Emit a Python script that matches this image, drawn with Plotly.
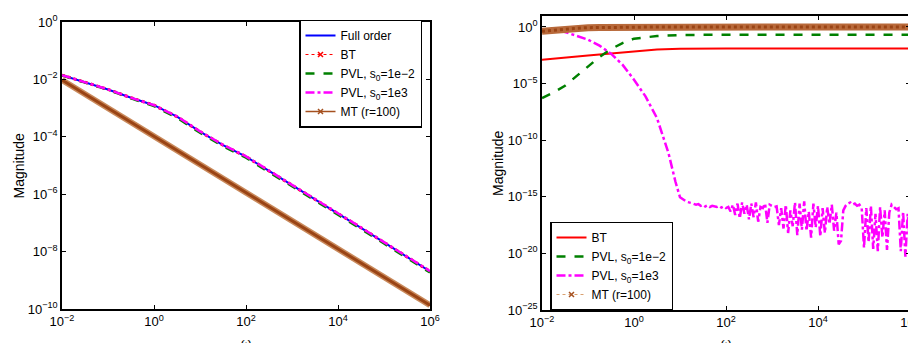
import plotly.graph_objects as go

# ---------------- data (log10 omega, log10 magnitude) ----------------
# Left panel: transfer function magnitudes
L_w = [-2.0, -1.5, -1.0, -0.5, 0.0, 0.5, 1.0, 1.5, 2.0, 2.5, 3.0, 3.5, 4.0, 4.5, 5.0, 5.5, 6.0]
L_full = [-1.85, -2.09, -2.35, -2.64, -2.90, -3.30, -3.82, -4.29, -4.69, -5.19, -5.68, -6.17, -6.66, -7.17, -7.68, -8.18, -8.69]
L_bt = [-1.85, -2.09, -2.35, -2.64, -2.90, -3.30, -3.82, -4.29, -4.69, -5.19, -5.68, -6.17, -6.66, -7.17, -7.68, -8.18, -8.69]
L_pvl1 = [-1.86, -2.10, -2.36, -2.66, -2.93, -3.34, -3.86, -4.33, -4.73, -5.23, -5.72, -6.21, -6.70, -7.21, -7.72, -8.22, -8.73]
L_pvl2 = [-1.85, -2.09, -2.35, -2.64, -2.90, -3.29, -3.81, -4.28, -4.68, -5.18, -5.67, -6.16, -6.65, -7.16, -7.67, -8.17, -8.68]
L_mt = [-2.02, -2.51, -3.00, -3.49, -3.98, -4.48, -4.97, -5.46, -5.95, -6.44, -6.93, -7.42, -7.91, -8.41, -8.90, -9.39, -9.87]

# Right panel: error magnitudes
R_w = [-2.0, -1.75, -1.5, -1.25, -1.0, -0.75, -0.5, -0.25, 0.0, 0.5, 1.0, 1.5, 2.0, 3.0, 4.0, 5.0, 6.0]
R_bt = [-2.89, -2.78, -2.68, -2.60, -2.51, -2.42, -2.33, -2.24, -2.15, -2.00, -1.92, -1.89, -1.89, -1.89, -1.89, -1.89, -1.89]
R_pvl1 = [-6.28, -5.78, -5.19, -4.36, -3.48, -2.65, -1.95, -1.42, -1.03, -0.80, -0.71, -0.68, -0.68, -0.68, -0.68, -0.68, -0.68]
R_mt = [-0.38, -0.27, -0.18, -0.11, -0.06, -0.04, -0.03, -0.01, 0.0, 0.0, 0.0, 0.0, 0.0, 0.0, 0.0, 0.0, 0.0]

R_pvl2_w = [-2.0, -1.75, -1.5, -1.25, -1.0, -0.75, -0.5, -0.25, 0.0, 0.25, 0.5, 0.75, 0.9, 1.0, 1.15, 1.25,
            1.30, 1.35, 1.40, 1.45, 1.50, 1.55, 1.60, 1.65, 1.70, 1.75,
            1.80, 1.85, 1.90, 1.95, 2.00, 2.05, 2.10, 2.15, 2.20, 2.25,
            2.30, 2.35, 2.40, 2.45, 2.50, 2.55, 2.60, 2.65, 2.70, 2.75,
            2.80, 2.85, 2.90, 2.95, 3.00, 3.05, 3.10, 3.15, 3.20, 3.25,
            3.30, 3.35, 3.40, 3.45, 3.50, 3.55, 3.60, 3.65, 3.70, 3.75,
            3.80, 3.85, 3.90, 3.95, 4.00, 4.05, 4.10, 4.15, 4.20, 4.25,
            4.30, 4.35, 4.40, 4.45, 4.50, 4.55, 4.60, 4.65, 4.70, 4.75,
            4.80, 4.85, 4.90, 4.95, 5.00, 5.05, 5.10, 5.15, 5.20, 5.25,
            5.30, 5.35, 5.40, 5.45, 5.50, 5.55, 5.60, 5.65, 5.70, 5.75,
            5.80, 5.85, 5.90, 5.95, 6.00]
R_pvl2 = [-0.30, -0.22, -0.44, -0.77, -1.12, -1.65, -2.36, -3.33, -4.66, -6.13, -8.05, -11.14, -13.65, -15.04, -15.45, -15.55,
          -15.6, -15.7, -15.65, -15.8, -15.7, -15.85, -15.75, -15.9, -15.8, -15.85,
          -15.9, -15.8, -15.95, -15.85, -16.0, -15.9, -16.3, -15.7, -16.6, -15.6,
          -16.9, -15.5, -16.5, -15.7, -17.0, -15.6, -16.8, -15.5, -17.2, -15.9,
          -16.0, -15.6, -17.3, -15.7, -15.8, -15.9, -15.85, -17.5, -16.0, -17.8,
          -15.7, -18.2, -16.2, -17.6, -15.5, -18.4, -15.6, -17.9, -15.4, -18.0,
          -16.3, -18.6, -15.6, -17.7, -15.8, -18.5, -16.0, -18.2, -15.9, -17.4,
          -15.7, -18.0, -16.4, -19.2, -18.9, -16.2, -15.8, -15.6, -15.5, -15.7,
          -15.6, -15.8, -15.7, -16.0, -19.5, -16.0, -19.0, -15.8, -19.6, -16.5,
          -19.8, -15.9, -18.6, -16.2, -19.7, -16.4, -15.7, -15.9, -16.1, -16.0,
          -19.8, -16.3, -20.3, -16.5, -19.0]

L_xticks = [-2, 0, 2, 4, 6]
L_xtext = ["10<sup>−2</sup>", "10<sup>0</sup>", "10<sup>2</sup>", "10<sup>4</sup>", "10<sup>6</sup>"]
L_yticks = [-10, -8, -6, -4, -2, 0]
L_ytext = ["10<sup>−10</sup>", "10<sup>−8</sup>", "10<sup>−6</sup>", "10<sup>−4</sup>", "10<sup>−2</sup>", "10<sup>0</sup>"]
R_yticks = [-25, -20, -15, -10, -5, 0]
R_ytext = ["10<sup>−25</sup>", "10<sup>−20</sup>", "10<sup>−15</sup>", "10<sup>−10</sup>", "10<sup>−5</sup>", "10<sup>0</sup>"]

names = ["Full order", "BT", "PVL, s<sub>0</sub>=1e−2", "PVL, s<sub>0</sub>=1e3", "MT (r=100)"]

BLUE, RED, GREEN, MAG, BROWN = "#0000FF", "#FF0000", "#008000", "#FF00FF", "#A5501F"

# figure is placed inside the page's 8px body margin
W, H, OFF = 908, 335, 8

def px_x(p):
    return (p - OFF) / W

def px_y(p):
    return 1 - (p - OFF) / H

def p10(v):
    return [10 ** a for a in v]

fig = go.Figure()

# ---- left panel ----
fig.add_trace(go.Scatter(x=p10(L_w), y=p10(L_full), mode="lines", name=names[0],
                         line=dict(color=BLUE, width=2), xaxis="x", yaxis="y", legend="legend"))
fig.add_trace(go.Scatter(x=p10(L_w), y=p10(L_bt), mode="lines", name=names[1], showlegend=False,
                         line=dict(color=RED, width=3, dash="dot"), xaxis="x", yaxis="y"))
fig.add_trace(go.Scatter(x=[None], y=[None], mode="lines+markers", name=names[1],
                         line=dict(color=RED, width=1, dash="dot"),
                         marker=dict(symbol="x-thin", size=5, line=dict(color=RED, width=1.5)),
                         xaxis="x", yaxis="y", legend="legend"))
fig.add_trace(go.Scatter(x=p10(L_w), y=p10(L_pvl1), mode="lines", name=names[2],
                         line=dict(color=GREEN, width=2.5, dash="dash"), xaxis="x", yaxis="y", legend="legend"))
fig.add_trace(go.Scatter(x=p10(L_w), y=p10(L_pvl2), mode="lines", name=names[3],
                         line=dict(color=MAG, width=2.5, dash="dashdot"), xaxis="x", yaxis="y", legend="legend"))
fig.add_trace(go.Scatter(x=p10(L_w), y=p10(L_mt), mode="lines", showlegend=False,
                         line=dict(color="#C98A5C", width=6), xaxis="x", yaxis="y"))
fig.add_trace(go.Scatter(x=p10(L_w), y=p10(L_mt), mode="lines", showlegend=False,
                         line=dict(color="#9A4415", width=3), xaxis="x", yaxis="y"))
fig.add_trace(go.Scatter(x=[None], y=[None], mode="lines+markers", name=names[4],
                         line=dict(color=BROWN, width=1.5),
                         marker=dict(symbol="x-thin", size=5, line=dict(color=BROWN, width=1.5)),
                         xaxis="x", yaxis="y", legend="legend"))

# ---- right panel ----
fig.add_trace(go.Scatter(x=p10(R_w), y=p10(R_bt), mode="lines", name=names[1],
                         line=dict(color=RED, width=2), xaxis="x2", yaxis="y2", legend="legend2"))
fig.add_trace(go.Scatter(x=p10(R_w), y=p10(R_pvl1), mode="lines", name=names[2],
                         line=dict(color=GREEN, width=2.5, dash="dash"), xaxis="x2", yaxis="y2", legend="legend2"))
fig.add_trace(go.Scatter(x=p10(R_pvl2_w), y=p10(R_pvl2), mode="lines", name=names[3],
                         line=dict(color=MAG, width=2.5, dash="dashdot"), xaxis="x2", yaxis="y2", legend="legend2"))
fig.add_trace(go.Scatter(x=p10(R_w), y=p10(R_mt), mode="lines", showlegend=False,
                         line=dict(color="#B8693A", width=7), xaxis="x2", yaxis="y2"))
fig.add_trace(go.Scatter(x=p10(R_w), y=p10(R_mt), mode="lines", showlegend=False,
                         line=dict(color="#9A4415", width=3, dash="dot"), xaxis="x2", yaxis="y2"))
fig.add_trace(go.Scatter(x=[None], y=[None], mode="lines+markers", name=names[4],
                         line=dict(color="#D9A070", width=1, dash="dot"),
                         marker=dict(symbol="x-thin", size=5, line=dict(color=BROWN, width=1.5)),
                         xaxis="x2", yaxis="y2", legend="legend2"))

axis_common = dict(type="log", showline=True, linecolor="black", linewidth=1.5, mirror="ticks",
                   ticks="inside", ticklen=4, tickcolor="black", showgrid=False, zeroline=False,
                   tickfont=dict(family="Liberation Sans, Arial", size=13, color="black"),
                   tickmode="array", automargin=False)

fig.update_layout(
    width=W, height=H,
    margin=dict(l=0, r=0, t=0, b=0, pad=0, autoexpand=False),
    paper_bgcolor="white", plot_bgcolor="white",
    font=dict(family="Liberation Sans, Arial", size=12, color="black"),
    xaxis=dict(axis_common, domain=[px_x(62), px_x(430)], range=[-2, 6], tickvals=p10(L_xticks), ticktext=L_xtext, anchor="y"),
    yaxis=dict(axis_common, domain=[px_y(309), px_y(22)], range=[-10, 0], tickvals=p10(L_yticks), ticktext=L_ytext, anchor="x"),
    xaxis2=dict(axis_common, domain=[px_x(542), px_x(910)], range=[-2, 6], tickvals=p10(L_xticks), ticktext=L_xtext, anchor="y2",
                ticklabeloverflow="allow"),
    yaxis2=dict(axis_common, domain=[px_y(310), px_y(16)], range=[-25, 0.97], tickvals=p10(R_yticks), ticktext=R_ytext, anchor="x2"),
    legend=dict(x=px_x(299), y=px_y(73.5), xanchor="left", yanchor="middle", bgcolor="white",
                bordercolor="black", borderwidth=1.5, font=dict(size=12), tracegroupgap=0,
                itemwidth=30),
    legend2=dict(x=px_x(550), y=px_y(266), xanchor="left", yanchor="middle", bgcolor="white",
                 bordercolor="black", borderwidth=1.5, font=dict(size=12), tracegroupgap=0,
                 itemwidth=30),
    annotations=[
        dict(text="Magnitude", x=px_x(18), y=px_y(165.5), xref="paper", yref="paper", textangle=-90,
             xanchor="center", yanchor="middle", showarrow=False, font=dict(size=14)),
        dict(text="Magnitude", x=px_x(498), y=px_y(163), xref="paper", yref="paper", textangle=-90,
             xanchor="center", yanchor="middle", showarrow=False, font=dict(size=14)),
        dict(text="ω", x=px_x(246), y=px_y(333), xref="paper", yref="paper", yanchor="top",
             xanchor="center", showarrow=False, font=dict(size=13)),
        dict(text="ω", x=px_x(726), y=px_y(333), xref="paper", yref="paper", yanchor="top",
             xanchor="center", showarrow=False, font=dict(size=13)),
    ],
)

fig.write_html("out.html")
